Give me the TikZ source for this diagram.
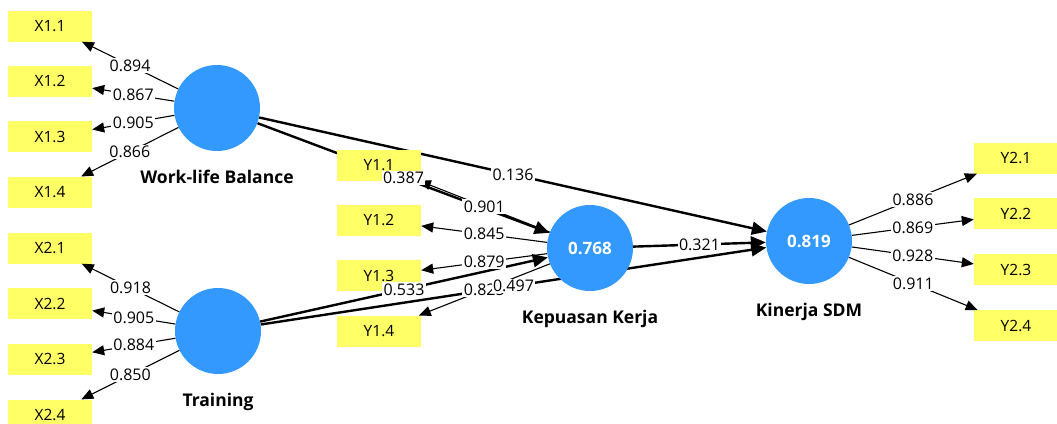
\documentclass[tikz,border=0pt]{standalone}
\usepackage{fontspec}
\setmainfont{Open Sans}
\usetikzlibrary{positioning,arrows.meta}

\definecolor{lvblue}{RGB}{51,153,255}
\definecolor{indyellow}{RGB}{255,255,102}

\pgfdeclarelayer{bg}
\pgfsetlayers{bg,main}

\tikzset{
  lv/.style={circle, fill=lvblue, minimum size=86pt, inner sep=0pt, text=white,
    font=\bfseries\fontsize{17}{20}\selectfont},
  lvname/.style={inner sep=0pt, text height=12.5pt, text depth=3.5pt,
    font=\bfseries\fontsize{17.5}{21}\selectfont},
  ind/.style={rectangle, fill=indyellow, minimum width=84pt, minimum height=31pt,
    inner sep=0pt, font=\fontsize{15.5}{18}\selectfont},
  load/.style={line width=1.1pt, -{Triangle[length=12pt,width=10pt]}},
  struct/.style={line width=2.4pt, -{Triangle[length=15pt,width=13pt]}},
  coef/.style={fill=white, inner sep=1.5pt, font=\fontsize{16}{19}\selectfont},
}

\begin{document}
\begin{tikzpicture}[x=1pt,y=-1pt]
\useasboundingbox (0,0) rectangle (1057,423);
%
% latent variables
\node[lv] (wlb) at (217,108) {};
\node[lvname, below=20pt of wlb] (wlbname) {Work-life Balance};
\node[lv] (tr) at (218,331) {};
\node[lvname, below=20pt of tr] (trname) {Training};
\node[lv] (kk) at (590,248) {0.768};
\node[lvname, below=20pt of kk] (kkname) {Kepuasan Kerja};
\node[lv] (ks) at (809,241) {0.819};
\node[lvname, below=20pt of ks] (ksname) {Kinerja SDM};

% indicators
\node[ind] (x11) at (50,26) {X1.1};
\node[ind, below=24pt of x11] (x12) {X1.2};
\node[ind, below=24pt of x12] (x13) {X1.3};
\node[ind, below=24pt of x13] (x14) {X1.4};
\node[ind] (x21) at (50,248) {X2.1};
\node[ind, below=24.3pt of x21] (x22) {X2.2};
\node[ind, below=24.3pt of x22] (x23) {X2.3};
\node[ind, below=24.3pt of x23] (x24) {X2.4};
\node[ind] (y11) at (379,165) {Y1.1};
\node[ind, below=24pt of y11] (y12) {Y1.2};
\node[ind, below=24pt of y12] (y13) {Y1.3};
\node[ind, below=24pt of y13] (y14) {Y1.4};
\node[ind] (y21) at (1016,158) {Y2.1};
\node[ind, below=24.5pt of y21] (y22) {Y2.2};
\node[ind, below=24.5pt of y22] (y23) {Y2.3};
\node[ind, below=24.5pt of y23] (y24) {Y2.4};

% outer loadings
\draw[load] (wlb) -- node[coef]{0.894} (x11);
\draw[load] (wlb) -- node[coef]{0.867} (x12);
\draw[load] (wlb) -- node[coef]{0.905} (x13);
\draw[load] (wlb) -- node[coef]{0.866} (x14);
\draw[load] (tr) -- node[coef]{0.918} (x21);
\draw[load] (tr) -- node[coef]{0.905} (x22);
\draw[load] (tr) -- node[coef]{0.884} (x23);
\draw[load] (tr) -- node[coef]{0.850} (x24);
\draw[load] (kk) -- node[coef]{0.901} (y11);
\draw[load] (kk) -- node[coef]{0.845} (y12);
\draw[load] (kk) -- node[coef]{0.879} (y13);
\draw[load] (kk) -- node[coef]{0.825} (y14);
\draw[load] (ks) -- node[coef]{0.886} (y21);
\draw[load] (ks) -- node[coef]{0.869} (y22);
\draw[load] (ks) -- node[coef]{0.928} (y23);
\draw[load] (ks) -- node[coef]{0.911} (y24);

% path coefficients, lines behind the indicator boxes
\begin{pgfonlayer}{bg}
\draw[struct] (wlb) -- (ks);
\draw[struct] (wlb) -- (kk);
\draw[struct] (tr) -- (kk);
\draw[struct] (tr) -- (ks);
\draw[struct] (kk) -- (ks);
\end{pgfonlayer}
\path (wlb) -- node[coef]{0.136} (ks);
\path (wlb) -- node[coef]{0.387} (kk);
\path (tr) -- node[coef]{0.533} (kk);
\path (tr) -- node[coef]{0.497} (ks);
\path (kk) -- node[coef]{0.321} (ks);
\end{tikzpicture}
\end{document}
